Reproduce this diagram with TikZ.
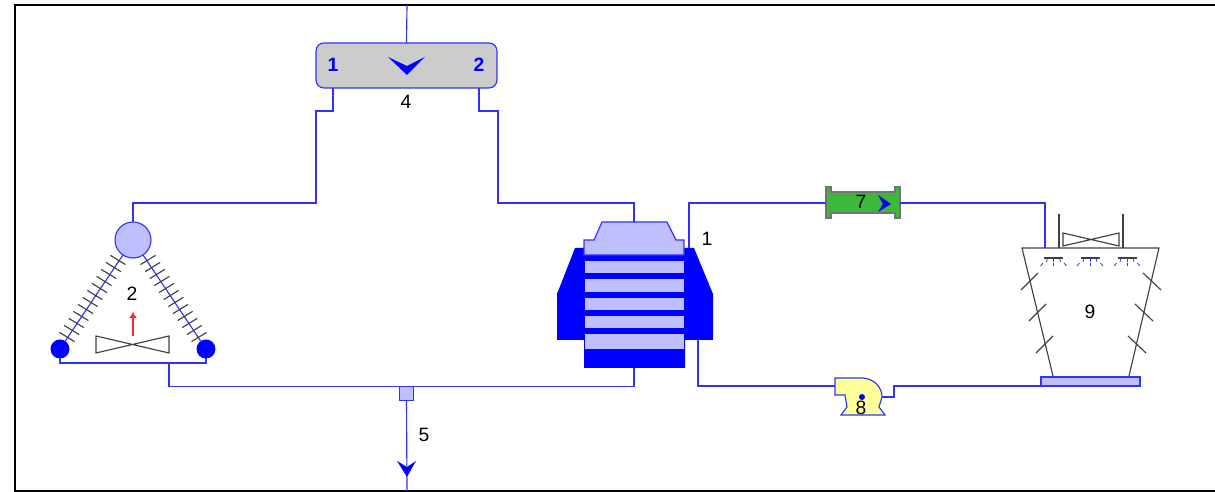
\documentclass[tikz,border=0pt]{standalone}
\usepackage{fontspec}
\setmainfont{Liberation Sans}
\usetikzlibrary{arrows.meta}
\definecolor{pipeblue}{RGB}{50,50,255}
\definecolor{lightblue}{RGB}{191,191,255}
\definecolor{pumpyellow}{RGB}{255,255,153}
\definecolor{filtergreen}{RGB}{60,185,60}
\tikzset{
    pipe/.style={draw=pipeblue, line width=0.65pt},
    outline/.style={draw=black!75, line width=0.65pt},
    label/.style={font=\fontsize{11}{13}\selectfont, inner sep=0pt},
    portlabel/.style={font=\fontsize{11}{13}\selectfont\bfseries, text=blue, inner sep=0pt},
}
\begin{document}
\begin{tikzpicture}[x=0.02cm, y=-0.02cm]
    \useasboundingbox (0,0) rectangle (1215,492);

    % Frame
    \draw[black, line width=1.1pt] (1215,5) -- (15,5) -- (15,491) -- (1215,491);

    % 4: Mixer
    \node[draw=pipeblue, fill=black!20, rounded corners=0.16cm, line width=0.65pt, minimum width=3.62cm, minimum height=0.9cm, inner sep=0pt, outer sep=0pt] (mixer) at (406.5,65.5) {};
    \node[portlabel] (mixerA) at (333,65) {1};
    \node[portlabel] (mixerB) at (479,65) {2};
    \node[label] (mixerLabel) at (406,102) {4};
    \fill[blue] (388,57) -- (407,66) -- (425,57) -- (407,75) -- cycle;
    \coordinate (mixerTop) at (407,5);
    \coordinate (mixerPortA) at (333,88);
    \coordinate (mixerPortB) at (479,88);

    % 2: Air cooler
    \node[circle, draw=pipeblue, fill=lightblue, minimum size=0.72cm, inner sep=0pt, outer sep=0pt, line width=0.65pt] (header) at (133,240) {};
    \node[circle, fill=blue, minimum size=0.38cm, inner sep=0pt, outer sep=0pt] (coilL) at (60,349) {};
    \node[circle, fill=blue, minimum size=0.38cm, inner sep=0pt, outer sep=0pt] (coilR) at (206,349) {};
    \draw[pipe] (header) -- (coilL);
    \draw[pipe] (header) -- (coilR);
    \foreach \i in {0,...,11} {
        \pgfmathsetmacro{\cx}{118-51*\i/11}
        \pgfmathsetmacro{\cy}{260+77*\i/11}
        \pgfmathsetmacro{\dx}{148+51*\i/11}
        \draw[outline] (\cx-7.5,\cy-4.6) -- (\cx+7.5,\cy+4.6);
        \draw[outline] (\dx+7.5,\cy-4.6) -- (\dx-7.5,\cy+4.6);
    }
    \draw[outline] (96,336) -- (169,353) -- (169,336) -- (96,353) -- cycle;
    \node[label] (coolerLabel) at (132,294) {2};
    \coordinate (airStart) at (133,336);
    \coordinate (airEnd) at (133,312);
    \draw[-{Latex[length=0.12cm,width=0.16cm]}, red!85, line width=0.65pt] (airStart) -- (airEnd);
    \coordinate (coolerOut) at (169,363);

    % 1: Main unit
    \fill[blue] (575,248) -- (557,294) -- (557,340) -- (584,340) -- (584,368) -- (685,368) -- (685,340) -- (713,340) -- (713,294) -- (694,248) -- cycle;
    \draw[pipe, fill=lightblue] (584,255) -- (584,240) -- (594,240) -- (602,222) -- (667,222) -- (676,240) -- (684,240) -- (684,255) -- cycle;
    \foreach \ya/\yb in {261/273, 279/292, 298/310, 316/328, 334/349} {
        \fill[lightblue] (585,\ya) rectangle (684,\yb);
    }
    \node[label] (unitLabel) at (707,239) {1};
    \coordinate (unitTop) at (634,222);
    \coordinate (unitBottom) at (634,368);
    \coordinate (unitOut) at (689,248);
    \coordinate (unitIn) at (698,340);

    % 5: Outlet
    \node[draw=pipeblue, fill=lightblue, line width=0.65pt, minimum size=0.29cm, inner sep=0pt, outer sep=0pt] (tee) at (406.5,393.5) {};
    \coordinate (outlet) at (407,491);
    \node[label] (outletLabel) at (424,435) {5};

    % 7: Filter
    \draw[fill=filtergreen, draw=black!55, line width=0.65pt] (826,187) -- (831,187) -- (831,192) -- (895,192) -- (895,187) -- (900,187) -- (900,218) -- (895,218) -- (895,213) -- (831,213) -- (831,218) -- (826,218) -- cycle;
    \node[minimum width=1.48cm, minimum height=0.42cm, inner sep=0pt, outer sep=0pt] (filter) at (863,203) {};
    \node[label] (filterLabel) at (861,202) {7};
    \fill[blue] (878,195) -- (891,204) -- (878,212) -- (883,204) -- cycle;

    % 8: Pump
    \draw[pipe, fill=pumpyellow] (835,378) -- (863,378) .. controls (874,379) and (882,387) .. (882,397) -- (879,407) -- (885,415) -- (841,415) -- (847,407) -- (845,395) -- (835,395) -- cycle;
    \fill[blue] (862,397) circle (3);
    \node[label] (pumpLabel) at (861,408) {8};
    \coordinate (pumpIn) at (835,386);
    \coordinate (pumpOut) at (882,397);

    % 9: Cooling tower
    \draw[outline] (1053,376) -- (1022,248) -- (1159,248) -- (1129,376);
    \node[draw=pipeblue, fill=lightblue, line width=0.7pt, minimum width=1.98cm, minimum height=0.18cm, inner sep=0pt, outer sep=0pt] (basin) at (1090.5,381.5) {};
    \node[label] (towerLabel) at (1090,312) {9};
    \draw[outline] (1063,233) -- (1119,246) -- (1119,233) -- (1063,246) -- cycle;
    \draw[outline] (1059,214) -- (1059,248);
    \draw[outline] (1123,214) -- (1123,248);
    % Ticks on the walls
    \foreach \ya/\xa/\xb in {273/1038/1143, 304/1046/1135, 336/1053/1128} {
        \draw[outline] (\xa,\ya) -- (\xa-17,\ya+17);
        \draw[outline] (\xb,\ya) -- (\xb+18,\ya+17);
    }
    % Sprays
    \foreach \sx in {1053.5,1090,1127} {
        \draw[outline] (\sx-9.5,258) -- (\sx+9.5,258);
        \draw[pipeblue, line width=0.45pt] (\sx-6,258) -- (\sx-7,262);
        \draw[pipeblue, line width=0.45pt] (\sx,258) -- (\sx,262);
        \draw[pipeblue, line width=0.45pt] (\sx+6,258) -- (\sx+7,262);
        \draw[pipeblue, line width=0.45pt] (\sx,263) -- (\sx,266);
        \draw[pipeblue, line width=0.45pt] (\sx-10.5,263) -- (\sx-13,266);
        \draw[pipeblue, line width=0.45pt] (\sx+10.5,263) -- (\sx+13,266);
    }
    \coordinate (towerIn) at (1045,248);
    \coordinate (basinOut) at (1041,386);

    % Connections
    \draw[pipe] (mixerTop) -- (mixer.north);
    \draw[pipe] (mixerPortA) -- ++(0,23) -- ++(-17,0) -- ++(0,92) -| (header.north);
    \draw[pipe] (mixerPortB) -- ++(0,23) -- ++(19,0) -- ++(0,92) -| (unitTop);
    \draw[pipe] (coilL) -- ++(0,14) -| (coilR);
    \draw[pipe] (coolerOut) |- (tee.north west);
    \draw[pipe] (tee.north east) -| (unitBottom);
    \draw[pipe] (tee.south) -- (outlet);
    \fill[blue] (397,461) -- (407,467) -- (416,461) -- (407,477) -- cycle;
    \draw[pipe] (unitOut) |- (filter.west);
    \draw[pipe] (filter.east) -| (towerIn);
    \draw[pipe] (unitIn) |- (pumpIn);
    \draw[pipe] (pumpOut) -- ++(12,0) -- ++(0,-11) -- (basinOut);
\end{tikzpicture}
\end{document}
